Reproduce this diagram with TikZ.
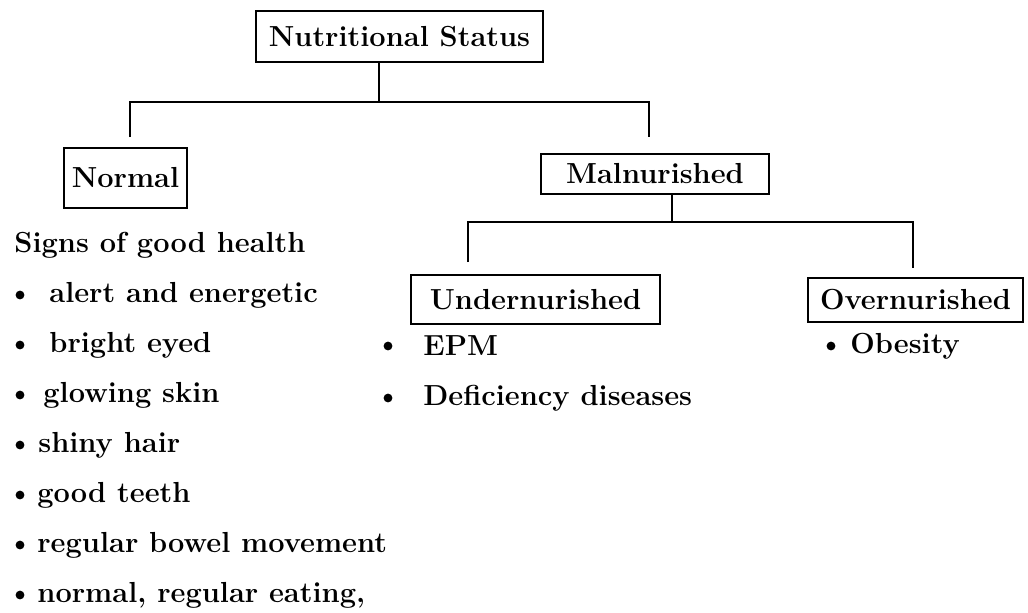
\documentclass[tikz,border=0pt]{standalone}
\usepackage{tikz}
\usetikzlibrary{positioning}

\tikzset{
  box/.style={draw, line width=1.4pt, inner sep=0pt, font=\fontsize{14.5}{16}\selectfont\bfseries},
  item/.style={anchor=west, inner sep=0pt, font=\fontsize{14.5}{16}\selectfont\bfseries},
  dot/.style={circle, fill, inner sep=0pt, minimum size=4.4pt},
  link/.style={line width=1.4pt}
}

\begin{document}
\begin{tikzpicture}[x=0.5pt, y=-0.5pt]
\useasboundingbox (0,0) rectangle (1028,612);

% Boxes
\node[box, minimum width=143.5pt, minimum height=25.5pt] (status) at (399.5,36.5) {Nutritional Status};
\node[box, minimum width=61.5pt, minimum height=30pt] (normal) at (125.5,178) {Normal};
\node[box, minimum width=114pt, minimum height=20pt] (malnu) at (655,174) {Malnurished};
\node[box, minimum width=124.5pt, minimum height=24.5pt] (under) at (535.5,299.5) {Undernurished};
\node[box, minimum width=107.5pt, minimum height=22pt] (over) at (915.5,300) {Overnurished};

% Branch from Nutritional Status
\coordinate (top) at (379,102);
\coordinate (normaltip) at (130,137);
\coordinate (malnutip) at (649,137);
\draw[link] (status.south -| top) -- (top);
\draw[link] (normaltip) |- (top) -| (malnutip);

% Branch from Malnurished
\coordinate (mid) at (672,222);
\coordinate (undertip) at (468,262);
\coordinate (overtip) at (913,268);
\draw[link] (malnu.south -| mid) -- (mid);
\draw[link] (undertip) |- (mid) -| (overtip);

% Normal list
\node[item] (signs) at (14,245) {Signs of good health};
\node[dot] (d1) at (20,295) {};
\node[item] (alert) at (49,295) {alert and energetic};
\node[dot] (d2) at (20,345) {};
\node[item] (bright) at (49,345) {bright eyed};
\node[dot] (d3) at (20,395) {};
\node[item] (glow) at (43,395) {glowing skin};
\node[dot] (d4) at (20,445) {};
\node[item] (shiny) at (38,445) {shiny hair};
\node[dot] (d5) at (20,495) {};
\node[item] (teeth) at (37,495) {good teeth};
\node[dot] (d6) at (20,545) {};
\node[item] (bowel) at (37,545) {regular bowel movement};
\node[dot] (d7) at (20,595) {};
\node[item] (eating) at (37,595) {normal, regular eating,};

% Undernurished list
\node[dot] (d8) at (388,346) {};
\node[item] (epm) at (423,346) {EPM};
\node[dot] (d9) at (388,398) {};
\node[item] (defic) at (423,398) {Deficiency diseases};

% Overnurished list
\node[dot] (d10) at (831,346) {};
\node[item] (obese) at (850,346) {Obesity};
\end{tikzpicture}
\end{document}
